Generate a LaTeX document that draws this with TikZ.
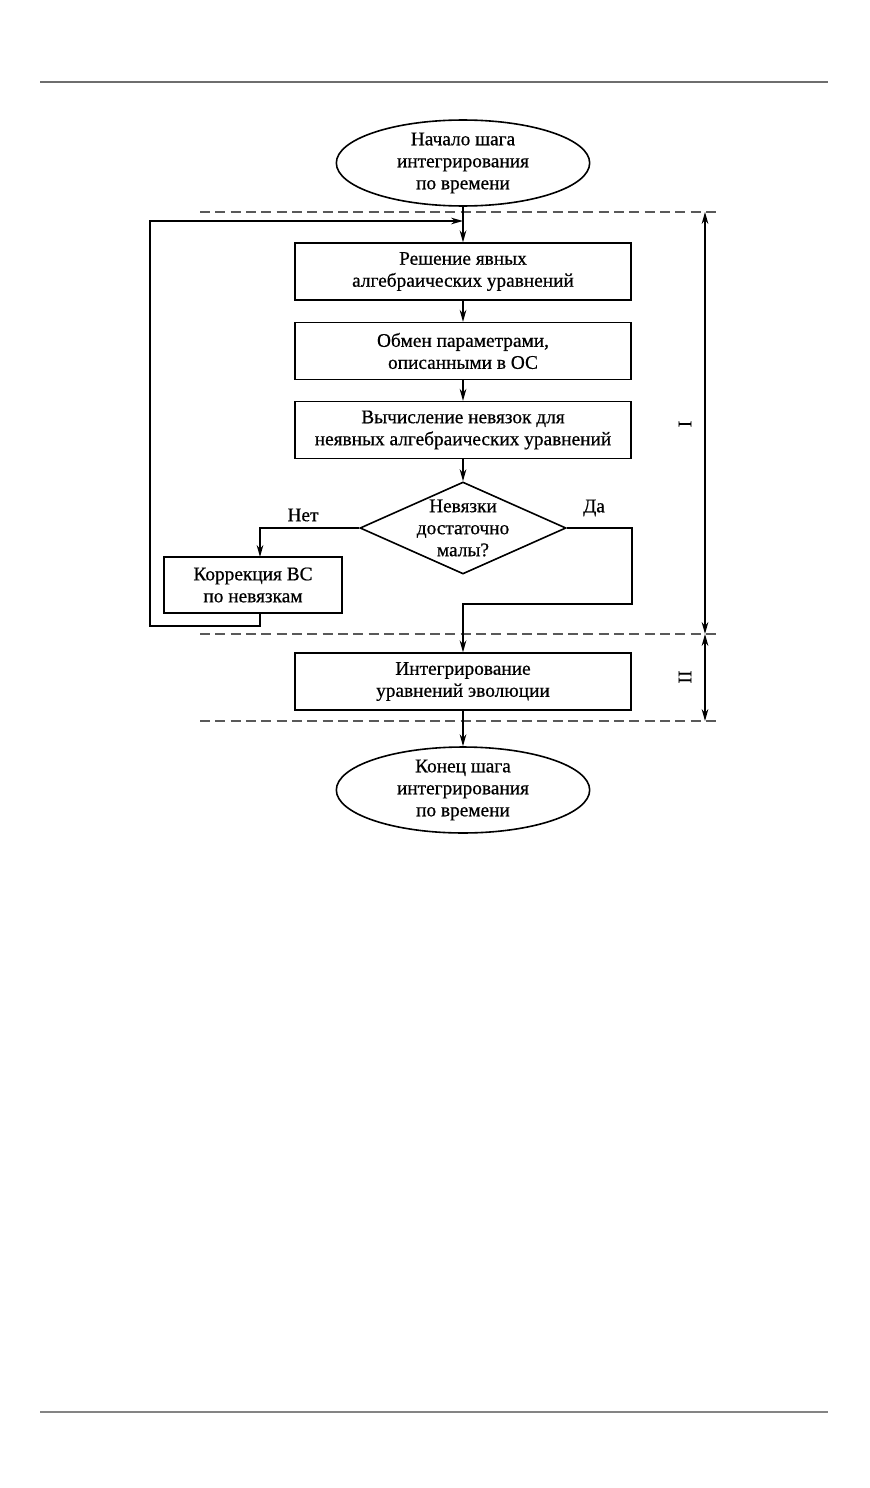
\documentclass[tikz,border=0pt]{standalone}
\usepackage{fontspec}
\setmainfont[FakeBold=0.6]{Liberation Serif}
\usetikzlibrary{shapes.geometric, arrows.meta, positioning, calc}
\definecolor{rulegray}{HTML}{6E6E6E}

\begin{document}
\begin{tikzpicture}[
  x=0.75pt, y=-0.75pt,
  txt/.style={font=\fontsize{14.5}{16.5}\selectfont},
  box/.style={rectangle, draw, line width=1.2pt, txt, align=center, minimum width=252pt, minimum height=42.5pt, inner sep=2pt},
  corbox/.style={rectangle, draw, line width=1.2pt, txt, align=center, minimum width=133.5pt, minimum height=42pt, inner sep=2pt},
  term/.style={ellipse, draw, line width=1.2pt, txt, align=center, minimum width=190pt, inner sep=0pt},
  decision/.style={diamond, draw, line width=1.2pt, minimum width=154.5pt, minimum height=69pt, inner sep=0pt},
  arr/.style={-{Stealth[length=9pt,width=5pt]}, line width=1.1pt},
  dimarr/.style={{Stealth[length=9pt,width=5pt]}-{Stealth[length=9pt,width=5pt]}, line width=1.1pt},
  sep/.style={dashed, dash pattern=on 7.5pt off 4pt, line width=0.9pt, color=black!65},
  stagelbl/.style={txt, rotate=90},
]
\useasboundingbox (0,0) rectangle (870,1488);

% --- page rules ---
\draw[rulegray, line width=1.2pt] (40,82) -- (828,82);
\draw[rulegray!85, line width=1.2pt] (40,1412) -- (828,1412);

% --- nodes ---
\node[term, minimum height=60pt] (start) at (463,163) {Начало шага\\ интегрирования\\ по времени};
\node[box] (explicit) at (463,271.5) {Решение явных\\ алгебраических уравнений};
\node[box] (exchange) at (463,351) {Обмен параметрами,\\ описанными в ОС};
\node[box] (resid) at (463,430) {Вычисление невязок для\\ неявных алгебраических уравнений};
\node[decision, label={[txt, align=center]center:Невязки\\ достаточно\\ малы?}] (check) at (463,528) {};
\node[corbox] (corr) at (253,585) {Коррекция ВС\\ по невязкам};
\node[box] (evol) at (463,681.5) {Интегрирование\\ уравнений эволюции};
\node[term, minimum height=56pt] (finish) at (463,790) {Конец шага\\ интегрирования\\ по времени};

% --- helper points ---
\coordinate (corin) at (260,557);
\coordinate (corout) at (260,613);
\coordinate (loopin) at (463,221);
\coordinate (yesjoin) at (463,604);

% --- stage separators ---
\draw[sep] (200,212) -- (720,212);
\draw[sep] (200,634) -- (720,634);
\draw[sep] (200,721) -- (720,721);

% --- arrows ---
\draw[arr] (start) -- (explicit);
\draw[arr] (explicit) -- (exchange);
\draw[arr] (exchange) -- (resid);
\draw[arr] (resid) -- (check);
\draw[arr] (check.west) -| (corin);
\draw[arr] (corout) -- (260,626) -- (150,626) -- (150,221) -- (loopin);
\draw[arr] (check.east) -- (632,528) -- (632,604) -- (yesjoin) -- (evol.north);
\draw[arr] (evol) -- (finish);

% --- branch labels ---
\node[txt] (no) at (303,515) {Нет};
\node[txt] (yes) at (594,508) {Да};

% --- stage dimensions ---
\coordinate (d1) at (705,212);
\coordinate (d2) at (705,634);
\coordinate (d3) at (705,721);
\draw[dimarr] (d1) -- (d2);
\draw[dimarr] (d2) -- (d3);
\node[stagelbl] (st1) at (685,424) {I};
\node[stagelbl] (st2) at (685,677) {II};
\end{tikzpicture}
\end{document}
